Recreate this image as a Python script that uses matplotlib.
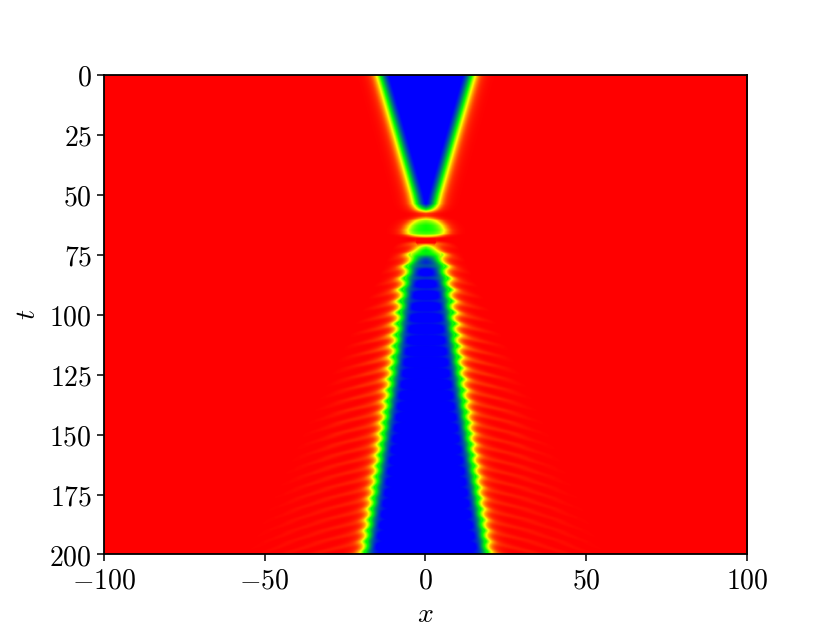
import numpy as np
import matplotlib
matplotlib.use("Agg")
from matplotlib import pyplot as plt
from matplotlib.colors import LinearSegmentedColormap

plt.rcParams['mathtext.fontset'] = 'cm'

# kink position and depth of the centre
knot_t = [0, 25, 50, 54, 56, 58, 59, 60, 61, 63, 65, 66.5, 67.5, 68.5, 69.5, 70.5, 72, 75, 80, 90, 100, 125, 150, 175, 200]
knot_x = [14.6, 9.2, 3.9, 3.2, 2.8, 2.4, 2.6, 3.2, 4.4, 5.6, 6.4, 6.4, 5.0, 3.2, 2.2, 2.2, 3.0, 4.0, 5.0, 6.6, 7.6, 10.2, 13.0, 15.8, 18.8]
knot_depth = [-1.1, -1.1, -1.1, -1.1, -0.4, 0.8, 0.85, 0.55, 0.2, 0.0, 0.0, 0.1, 0.45, 0.9, 0.9, 0.5, 0.1, -0.5, -1.0, -1.1, -1.1, -1.1, -1.1, -1.1, -1.1]

# times where the kink bumps and sends a wave out
burst_t = [70, 75, 80, 85, 89.7, 94.5, 99.2, 103.9, 108.6, 113.2, 117.8, 122.4, 127, 131.6, 136.2,
           140.7, 145.2, 149.7, 154.2, 158.7, 163.2, 167.7, 172.2, 176.7, 181.2, 185.7, 190.2, 194.7, 199.2]

x_ticks = [-100, -50, 0, 50, 100]
x_labels = ['$-100$', '$-50$', '$0$', '$50$', '$100$']
t_ticks = [0, 25, 50, 75, 100, 125, 150, 175, 200]
t_labels = ['$0$', '$25$', '$50$', '$75$', '$100$', '$125$', '$150$', '$175$', '$200$']

cmap = LinearSegmentedColormap.from_list('kink', [(0.0, (0, 0, 1)), (0.07, (0, 0, 1)), (0.35, (0, 0.65, 0.3)),
                                                  (0.5, (0, 1, 0)), (0.72, (1, 1, 0)), (0.93, (1, 0.2, 0)), (1.0, (1, 0, 0))])


def make_field():
    x = np.linspace(-100, 100, 1000)
    t = np.linspace(0, 200, 800)
    X, T = np.meshgrid(x, t)
    dist = np.abs(X)

    kink = np.interp(t, knot_t, knot_x)
    depth = np.interp(t, knot_t, knot_depth)
    wobble = np.zeros_like(t)
    for b in burst_t:
        wobble += (0.7 + 0.7 * np.exp(-(b - 70) / 30)) * np.exp(-((t - b) / 1.2) ** 2)
    kink = kink + wobble - 0.4
    kink_2d = kink[:, None]
    depth_2d = depth[:, None] + 0.3 * wobble[:, None]

    w = 2.6
    phi = 1 + (depth_2d - 1) / 2 * (1 - np.tanh((dist - kink_2d) / w))

    # outgoing waves, fading with distance and inside the cone
    d = np.maximum(dist - kink_2d, 0)
    waves = np.zeros_like(phi)
    for b in burst_t:
        t_wave = b + 0.25 * d + 0.006 * d ** 2
        amp = 0.1 + 0.3 * np.exp(-(b - 70) / 45)
        waves += amp * np.exp(-((T - t_wave) / 1.1) ** 2)
    cone = np.clip(((T - 45) * 0.38 - dist) / 12, 0, 1)
    waves = waves * cone * (0.1 + 0.9 * np.exp(-d / 16))
    phi = phi - waves * (dist > kink_2d)
    return np.clip(phi, -1, 1)


field = make_field()

fig, ax = plt.subplots(figsize=(8.3, 6.23), dpi=100)
ax.imshow(field, extent=[-100, 100, 200, 0], aspect='auto', cmap=cmap, vmin=-1, vmax=1, interpolation='bilinear')
ax.set_xticks(x_ticks, x_labels)
ax.set_yticks(t_ticks, t_labels)
ax.tick_params(labelsize=20, length=5, width=1.1)
ax.set_xlabel('$x$', fontsize=20, labelpad=4)
ax.set_ylabel('$t$', fontsize=20, labelpad=6)
for s in ax.spines.values():
    s.set_linewidth(1.3)

fig.savefig('out.png', dpi=100)
